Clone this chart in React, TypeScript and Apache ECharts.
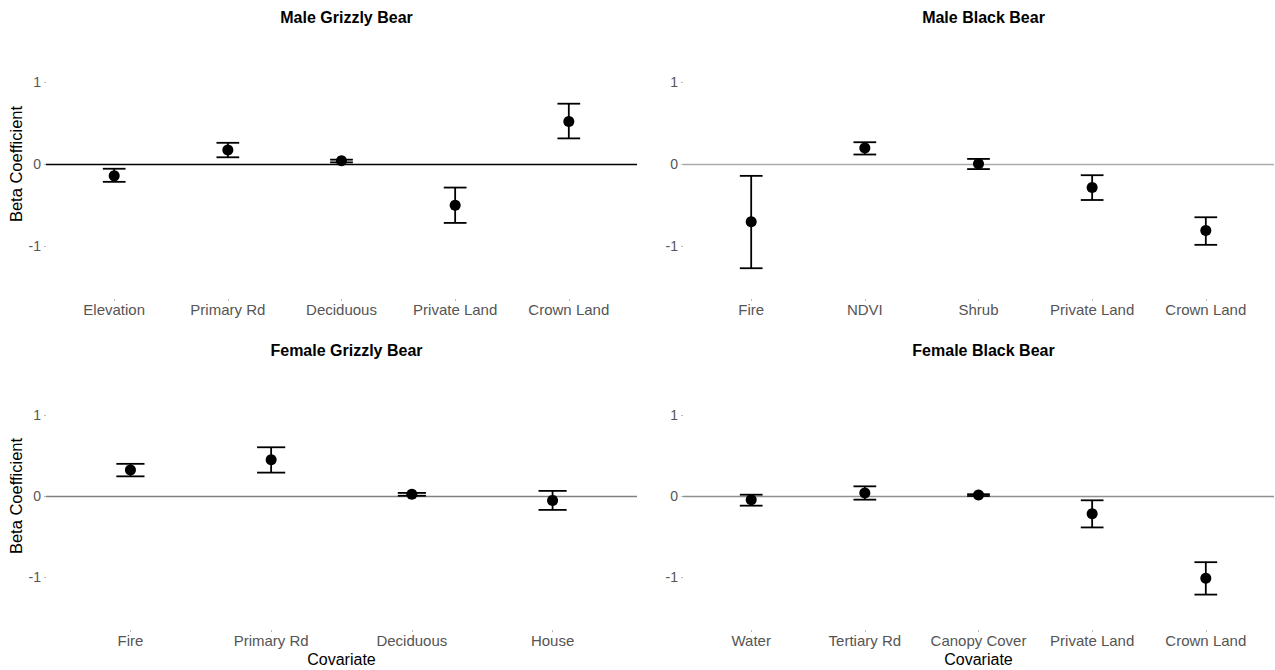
import React, { useEffect, useRef } from "react";
import * as echarts from "echarts";

const titles = ["Male Grizzly Bear", "Male Black Bear", "Female Grizzly Bear", "Female Black Bear"];

const catsMG = ["Elevation", "Primary Rd", "Deciduous", "Private Land", "Crown Land"];
const meanMG = [-0.145, 0.17, 0.04, -0.505, 0.52];
const lowMG = [-0.218, 0.082, 0.02, -0.72, 0.313];
const highMG = [-0.058, 0.259, 0.053, -0.288, 0.737];

const catsMB = ["Fire", "NDVI", "Shrub", "Private Land", "Crown Land"];
const meanMB = [-0.705, 0.195, 0.004, -0.286, -0.813];
const lowMB = [-1.274, 0.116, -0.062, -0.44, -0.988];
const highMB = [-0.145, 0.266, 0.062, -0.137, -0.651];

const catsFG = ["Fire", "Primary Rd", "Deciduous", "House"];
const meanFG = [0.321, 0.446, 0.022, -0.054];
const lowFG = [0.242, 0.288, 0.003, -0.171];
const highFG = [0.396, 0.6, 0.038, 0.063];

const catsFB = ["Water", "Tertiary Rd", "Canopy Cover", "Private Land", "Crown Land"];
const meanFB = [-0.045, 0.037, 0.012, -0.218, -1.012];
const lowFB = [-0.119, -0.045, 0.0, -0.387, -1.214];
const highFB = [0.016, 0.119, 0.022, -0.053, -0.815];

const yTicks = [-1, 0, 1];

export default function App() {
  const ref = useRef<HTMLDivElement>(null);
  useEffect(() => {
    if (!ref.current) return;
    const chart = echarts.init(ref.current, null, { renderer: "svg" });
    const font = "Liberation Sans, Arial, sans-serif";
    const panels = [
      { cats: catsMG, mean: meanMG, low: lowMG, high: highMG, left: 46, top: 29, height: 270, zero: "#000000", ylab: true, xlab: false },
      { cats: catsMB, mean: meanMB, low: lowMB, high: highMB, left: 683, top: 29, height: 270, zero: "#aaaaaa", ylab: false, xlab: false },
      { cats: catsFG, mean: meanFG, low: lowFG, high: highFG, left: 46, top: 362, height: 268, zero: "#808080", ylab: true, xlab: true },
      { cats: catsFB, mean: meanFB, low: lowFB, high: highFB, left: 683, top: 362, height: 268, zero: "#909090", ylab: false, xlab: true },
    ];
    const width = 591;
    const grid: any[] = [];
    const xAxis: any[] = [];
    const yAxis: any[] = [];
    const series: any[] = [];
    const title: any[] = [];
    panels.forEach((p, k) => {
      grid.push({ left: p.left, top: p.top, width, height: p.height, containLabel: false, outerBoundsMode: "none" });
      title.push({
        text: titles[k],
        left: p.left + width / 2,
        textAlign: "center",
        top: p.top - 25,
        textStyle: { fontFamily: font, fontSize: 16, fontWeight: "bold", color: "#000" },
      });
      const idx = p.cats.map((_, i) => i);
      xAxis.push({
        gridIndex: k,
        type: "value",
        min: -0.6,
        max: p.cats.length - 0.4,
        name: p.xlab ? "Covariate" : "",
        nameLocation: "middle",
        nameGap: 21,
        nameTextStyle: { fontFamily: font, fontSize: 16, color: "#000" },
        axisLine: { show: false, onZero: false },
        splitLine: { show: false },
        axisTick: { show: true, customValues: idx, length: 2, lineStyle: { color: "#bbbbbb" } },
        axisLabel: {
          customValues: idx,
          formatter: (v: number) => p.cats[Math.round(v)] ?? "",
          fontFamily: font,
          fontSize: 15,
          color: "#555555",
          margin: 3,
        },
      });
      yAxis.push({
        gridIndex: k,
        type: "value",
        min: -1.65,
        max: 1.65,
        name: p.ylab ? "Beta Coefficient" : "",
        nameLocation: "middle",
        nameGap: 22,
        nameRotate: 90,
        nameTextStyle: { fontFamily: font, fontSize: 16.5, color: "#000" },
        axisLine: { show: false, onZero: false },
        splitLine: { show: false },
        axisTick: { show: true, customValues: yTicks, length: 2, lineStyle: { color: "#bbbbbb" } },
        axisLabel: {
          customValues: yTicks,
          fontFamily: font,
          fontSize: 14,
          color: "#555555",
          margin: 5,
        },
      });
      series.push({
        type: "custom",
        xAxisIndex: k,
        yAxisIndex: k,
        data: idx.map((i) => [i, p.low[i], p.high[i]]),
        encode: { x: 0, y: [1, 2] },
        z: 3,
        renderItem: (params: any, api: any) => {
          const i = api.value(0);
          const lo = api.value(1);
          const hi = api.value(2);
          const a = api.coord([i, hi]);
          const b = api.coord([i, lo]);
          const c1 = api.coord([i - 0.1, hi]);
          const c2 = api.coord([i + 0.1, hi]);
          const d1 = api.coord([i - 0.1, lo]);
          const d2 = api.coord([i + 0.1, lo]);
          const st = { stroke: "#000", lineWidth: 1.8 };
          return {
            type: "group",
            children: [
              { type: "line", shape: { x1: a[0], y1: a[1], x2: b[0], y2: b[1] }, style: st },
              { type: "line", shape: { x1: c1[0], y1: c1[1], x2: c2[0], y2: c2[1] }, style: st },
              { type: "line", shape: { x1: d1[0], y1: d1[1], x2: d2[0], y2: d2[1] }, style: st },
            ],
          };
        },
      });
      series.push({
        type: "scatter",
        xAxisIndex: k,
        yAxisIndex: k,
        data: idx.map((i) => [i, p.mean[i]]),
        symbol: "circle",
        symbolSize: 11,
        itemStyle: { color: "#000", opacity: 1 },
        z: 4,
        markLine: {
          silent: true,
          symbol: "none",
          label: { show: false },
          lineStyle: { color: p.zero, width: 1.3, type: "solid", opacity: 1 },
          data: [{ yAxis: 0 }],
          z: 1,
        },
      });
    });
    chart.setOption({
      animation: false,
      backgroundColor: "#ffffff",
      textStyle: { fontFamily: font },
      title,
      grid,
      xAxis,
      yAxis,
      series,
    });
    return () => chart.dispose();
  }, []);
  return (
    <div
      ref={ref}
      style={{ position: "absolute", left: 0, top: 0, width: 1275, height: 670, background: "#fff" }}
    />
  );
}
